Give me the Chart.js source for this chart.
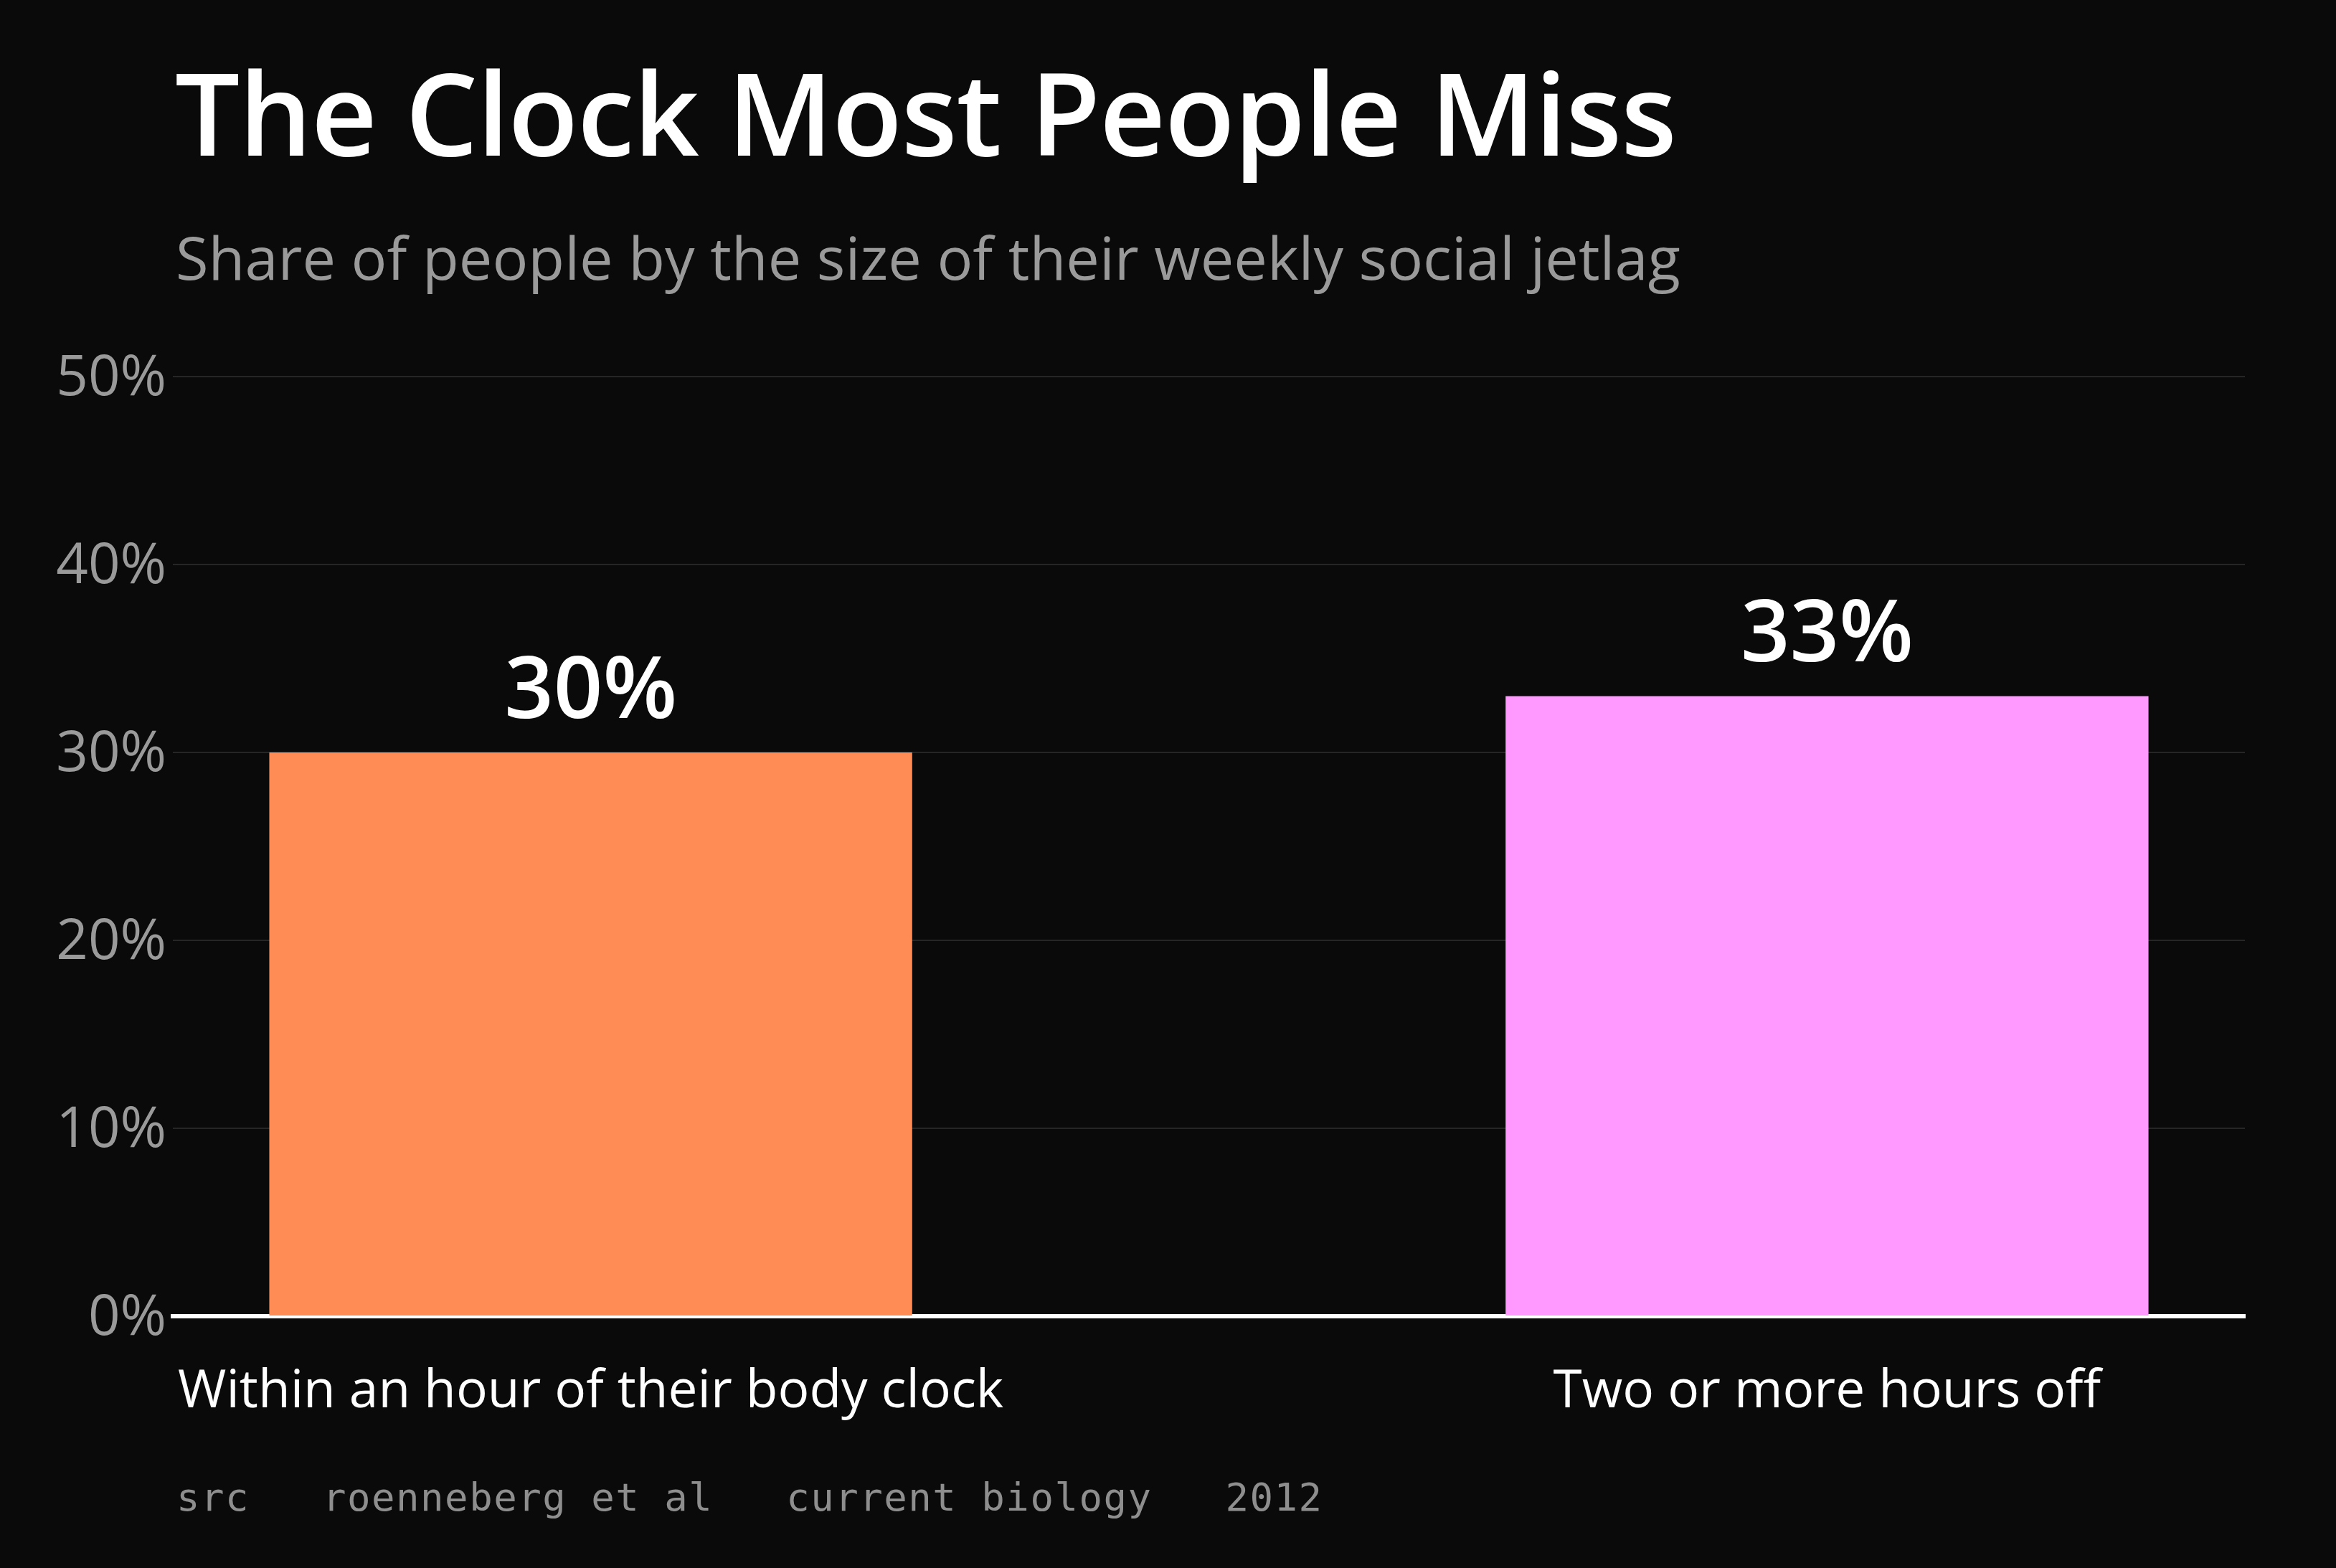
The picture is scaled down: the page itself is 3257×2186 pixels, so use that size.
<!DOCTYPE html>
<html>
<head>
<meta charset="utf-8">
<script src="https://cdn.jsdelivr.net/npm/chart.js@4.4.1/dist/chart.umd.min.js"></script>
<style>
  html, body { margin: 0; padding: 0; background: #0A0A0A; }
  #wrap { position: relative; width: 3257px; height: 2186px; background: #0A0A0A; overflow: hidden; }
  #chart { position: absolute; left: 0; top: 0; width: 3257px; height: 2186px; }
  .txt { position: absolute; white-space: pre; line-height: 1; }
  #title { left: 244px; top: 75px; font-family: "Open Sans", sans-serif; font-weight: 600; font-size: 160px; color: #FFFFFF; letter-spacing: -1.2px; }
  #subtitle { left: 245px; top: 316px; font-family: "Open Sans", sans-serif; font-weight: 400; font-size: 83px; color: #9A9A9A; }
  #source { left: 246px; top: 2061px; font-family: "DejaVu Sans Mono", monospace; font-size: 54px; color: #8E8E8E; letter-spacing: 1.5px; }
</style>
</head>
<body>
<div id="wrap">
  <canvas id="chart" width="3257" height="2186"></canvas>
  <div class="txt" id="title">The Clock Most People Miss</div>
  <div class="txt" id="subtitle">Share of people by the size of their weekly social jetlag</div>
  <div class="txt" id="source">src   roenneberg et al   current biology   2012</div>
</div>
<script>
const categories = ['Within an hour of their body clock', 'Two or more hours off'];
const shares = [30, 33];
const barColors = ['#FF8C55', '#FF99FF'];
const yTickValues = [0, 10, 20, 30, 40, 50];

const valueLabels = {
  id: 'valueLabels',
  afterDatasetsDraw(chart) {
    const ctx = chart.ctx;
    const meta = chart.getDatasetMeta(0);
    ctx.save();
    ctx.fillStyle = '#FFFFFF';
    ctx.font = '600 120px "Open Sans", sans-serif';
    ctx.textAlign = 'center';
    ctx.textBaseline = 'alphabetic';
    meta.data.forEach((bar, i) => {
      ctx.fillText(shares[i] + '%', bar.x, bar.y - 48);
    });
    ctx.restore();
  }
};

new Chart(document.getElementById('chart'), {
  type: 'bar',
  data: {
    datasets: [{
      data: shares.map((v, i) => ({ x: i, y: v })),
      backgroundColor: barColors,
      borderWidth: 0,
      barPercentage: 0.52,
      categoryPercentage: 1.0
    }]
  },
  options: {
    responsive: false,
    animation: false,
    devicePixelRatio: 1,
    layout: { padding: { top: 525, left: 0, right: 127, bottom: 151 } },
    plugins: { legend: { display: false }, tooltip: { enabled: false } },
    scales: {
      x: {
        type: 'linear',
        offset: false,
        min: -0.338,
        max: 1.338,
        z: 1,
        afterBuildTicks: (s) => { s.ticks = categories.map((c, i) => ({ value: i })); },
        afterFit: (s) => { s.height = 200; },
        grid: { display: false, drawTicks: false },
        border: { display: true, color: '#FFFFFF', width: 6 },
        ticks: {
          color: '#FFFFFF',
          font: { family: '"Open Sans", sans-serif', size: 73 },
          padding: 62,
          maxRotation: 0,
          autoSkip: false,
          callback: (v) => categories[v]
        }
      },
      y: {
        min: 0,
        max: 50,
        afterBuildTicks: (s) => { s.ticks = yTickValues.map(v => ({ value: v })); },
        afterFit: (s) => { s.width = 241; },
        grid: { color: '#262626', lineWidth: 2, drawTicks: false },
        border: { display: false },
        ticks: {
          color: '#9A9A9A',
          font: { family: '"Open Sans", sans-serif', size: 78 },
          padding: 9,
          labelOffset: 4,
          callback: (v) => v + '%'
        }
      }
    }
  },
  plugins: [valueLabels]
});
</script>
</body>
</html>
